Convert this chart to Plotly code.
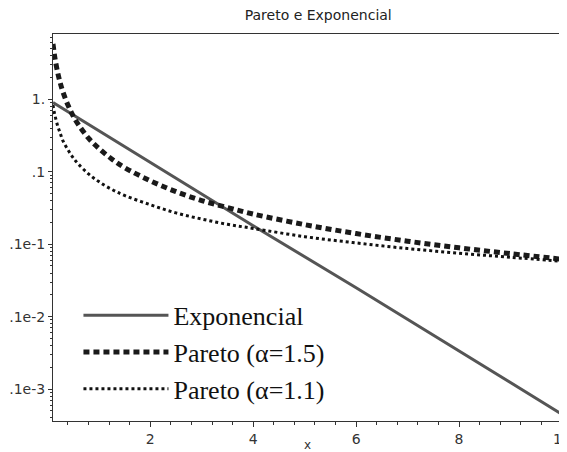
import plotly.graph_objects as go

# Values
x_exp = [0.11, 2, 4, 6, 8, 10]
y_exp = [0.90, 0.135, 0.018, 0.0025, 0.00034, 0.000045]

x_par = [0.11, 0.13, 0.15, 0.2, 0.25, 0.3, 0.4, 0.5, 0.6, 0.8, 1, 1.25, 1.5,
         2, 2.5, 3, 3.5, 4, 5, 6, 7, 8, 9, 10]
y_par15 = [5.8, 4.5, 3.6, 2.35, 1.68, 1.28, 0.83, 0.59, 0.45, 0.29, 0.21, 0.15, 0.114,
           0.075, 0.053, 0.040, 0.032, 0.026, 0.0186, 0.0140, 0.0110, 0.0089, 0.0074, 0.0062]
y_par11 = [0.83, 0.69, 0.59, 0.43, 0.34, 0.27, 0.20, 0.156, 0.128, 0.093, 0.073, 0.057, 0.047,
           0.035, 0.027, 0.0222, 0.0188, 0.0165, 0.0127, 0.0104, 0.0087, 0.0075, 0.0066, 0.0058]

names = ["Exponencial", "Pareto (α=1.5)", "Pareto (α=1.1)"]
title_text = "Pareto e Exponencial"
x_ticks = [2, 4, 6, 8, 10]
y_ticks = [1, 0.1, 0.01, 0.001, 0.0001]
y_ticktext = ["1.", ".1", ".1e-1", ".1e-2", ".1e-3"]
y_minor = [m * d for d in [1e-5, 1e-4, 1e-3, 1e-2, 1e-1, 1] for m in range(2, 10)]

fig = go.Figure()
fig.add_trace(go.Scatter(x=x_exp, y=y_exp, mode="lines", name=names[0],
                         line=dict(color="#555555", width=3)))
fig.add_trace(go.Scatter(x=x_par, y=y_par15, mode="lines", name=names[1], line_shape="spline",
                         line=dict(color="#1a1a1a", width=5, dash="6px,4px")))
fig.add_trace(go.Scatter(x=x_par, y=y_par11, mode="lines", name=names[2], line_shape="spline",
                         line=dict(color="#111111", width=3, dash="dot")))

axis_font = dict(family="DejaVu Sans, Verdana, sans-serif", size=14, color="#333333")

# page body has an 8px default margin, so the figure is sized to fit the window
fig.update_layout(
    width=559, height=444,
    margin=dict(l=45, r=5, t=26, b=31, autoexpand=False),
    paper_bgcolor="white", plot_bgcolor="white",
    title=dict(text=title_text, x=0.555, xanchor="center", y=0.983, yanchor="middle",
               font=dict(family="DejaVu Sans, Verdana, sans-serif", size=14, color="#222222")),
    showlegend=True,
    legend=dict(x=0.05, y=0.021, xanchor="left", yanchor="bottom",
                bgcolor="rgba(0,0,0,0)", borderwidth=0,
                font=dict(family="Liberation Serif, Times New Roman, serif", size=26, color="#111111"),
                itemwidth=85, tracegroupgap=0),
)
fig.update_xaxes(
    range=[0.11, 10.0001], tickvals=x_ticks, ticks="outside", ticklen=5, tickcolor="#333",
    showgrid=False, zeroline=False, showline=True, linecolor="#333", linewidth=1, mirror=True,
    tickfont=axis_font, automargin=False, ticklabeloverflow="allow",
    minor=dict(ticks="outside", ticklen=3, dtick=0.4, tick0=0, tickcolor="#333", showgrid=False),
    title=dict(text="x", standoff=0, font=dict(family="DejaVu Sans, Verdana, sans-serif", size=12, color="#333")),
)
fig.update_yaxes(
    type="log", range=[-4.44, 0.9], tickvals=y_ticks, ticktext=y_ticktext,
    ticks="outside", ticklen=4, tickcolor="#333",
    showgrid=False, zeroline=False, showline=True, linecolor="#333", linewidth=1, mirror=True,
    tickfont=axis_font, automargin=False,
    minor=dict(ticks="outside", ticklen=2, tickvals=y_minor, tickcolor="#333", showgrid=False),
)

fig.write_html("out.html")
